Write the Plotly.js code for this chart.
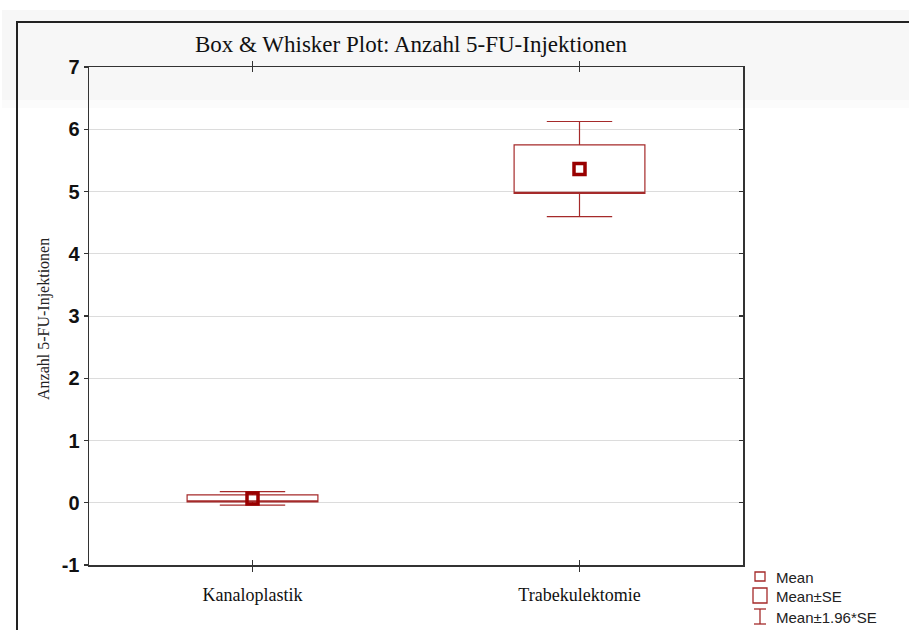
<!DOCTYPE html>
<html>
<head>
<meta charset="utf-8">
<script src="https://cdn.plot.ly/plotly-3.0.1.min.js"></script>
<style>
  html, body { margin: 0; padding: 0; background: #ffffff; }
  #chart { width: 909px; height: 630px; }
</style>
</head>
<body>
<div id="chart"></div>
<script>
// Groups and their summary statistics (mean, standard error)
const categories = ['Kanaloplastik', 'Trabekulektomie'];
const means = [0.07, 5.36];
const stdErrors = [0.055, 0.39];
const zFactor = 1.96;

// Y axis ticks
const yTickVals = [-1, 0, 1, 2, 3, 4, 5, 6, 7];
const yTickText = ['-1', '0', '1', '2', '3', '4', '5', '6', '7'];

// Legend entries
const legendLabels = ['Mean', 'Mean\u00B1SE', 'Mean\u00B11.96*SE'];

const boxColor = '#a52a2a';
const meanColor = '#990000';

// Box = mean ± SE, whiskers = mean ± 1.96*SE
const q1 = means.map((m, i) => m - stdErrors[i]);
const q3 = means.map((m, i) => m + stdErrors[i]);
const lowFence = means.map((m, i) => m - zFactor * stdErrors[i]);
const upFence = means.map((m, i) => m + zFactor * stdErrors[i]);

const boxTrace = {
  type: 'box',
  x: categories,
  q1: q1,
  median: q1,
  q3: q3,
  lowerfence: lowFence,
  upperfence: upFence,
  width: 0.4,
  whiskerwidth: 0.5,
  boxpoints: false,
  fillcolor: 'rgba(0,0,0,0)',
  line: { color: boxColor, width: 1.2 },
  showlegend: false,
  hoverinfo: 'skip'
};

const meanTrace = {
  type: 'scatter',
  mode: 'markers',
  x: categories,
  y: means,
  marker: { symbol: 'square-open', size: 11, color: meanColor, line: { width: 3.5, color: meanColor } },
  showlegend: false,
  hoverinfo: 'skip'
};

// Plot area in pixels
const W = 909, H = 630;
const L = 89, R = 743, T = 67, B = 565;
const px = v => (v - L) / (R - L);
const py = v => (B - v) / (B - T);

const shapes = [
  // soft grey header band
  { type: 'rect', xref: 'paper', yref: 'paper', layer: 'below',
    x0: px(2), x1: px(W + 5), y0: py(100), y1: py(10),
    fillcolor: '#f7f7f7', line: { width: 0 } },
  { type: 'rect', xref: 'paper', yref: 'paper', layer: 'below',
    x0: px(2), x1: px(W + 5), y0: py(108), y1: py(100),
    fillcolor: '#fbfbfb', line: { width: 0 } },
  // outer frame
  { type: 'path', xref: 'paper', yref: 'paper',
    path: 'M ' + px(17) + ' ' + py(H + 10) + ' L ' + px(17) + ' ' + py(22) + ' L ' + px(W + 10) + ' ' + py(22),
    line: { color: '#222222', width: 2 } },
  // legend: mean symbol
  { type: 'rect', xref: 'paper', yref: 'paper',
    x0: px(755), x1: px(765), y0: py(581), y1: py(572),
    line: { color: boxColor, width: 1.3 } },
  // legend: SE box
  { type: 'rect', xref: 'paper', yref: 'paper',
    x0: px(753), x1: px(767), y0: py(603), y1: py(588),
    line: { color: boxColor, width: 1.3 } },
  // legend: whisker
  { type: 'line', xref: 'paper', yref: 'paper',
    x0: px(760), x1: px(760), y0: py(624), y1: py(609),
    line: { color: boxColor, width: 1.3 } },
  { type: 'line', xref: 'paper', yref: 'paper',
    x0: px(754), x1: px(766), y0: py(609), y1: py(609),
    line: { color: boxColor, width: 1.3 } },
  { type: 'line', xref: 'paper', yref: 'paper',
    x0: px(754), x1: px(766), y0: py(624), y1: py(624),
    line: { color: boxColor, width: 1.3 } }
];

const legendY = [577, 596, 617];
const annotations = legendLabels.map((t, i) => ({
  xref: 'paper', yref: 'paper', x: px(774), y: py(legendY[i]),
  xanchor: 'left', yanchor: 'middle', showarrow: false, text: t,
  font: { family: 'Liberation Sans, Arial, sans-serif', size: 15, color: '#222222' }
}));
annotations.push({
  xref: 'paper', yref: 'paper', x: px(44), y: py(319),
  xanchor: 'center', yanchor: 'middle', showarrow: false, textangle: -90,
  text: 'Anzahl 5-FU-Injektionen',
  font: { family: 'Liberation Serif, Times New Roman, serif', size: 16, color: '#222222' }
});

const layout = {
  width: W, height: H,
  margin: { l: L, r: W - R, t: T, b: H - B, pad: 0 },
  paper_bgcolor: '#ffffff',
  plot_bgcolor: 'rgba(0,0,0,0)',
  title: {
    text: 'Box & Whisker Plot: Anzahl 5-FU-Injektionen',
    x: 411 / W, xanchor: 'center', xref: 'container',
    y: 1 - 44 / H, yanchor: 'middle', yref: 'container',
    font: { family: 'Liberation Serif, Times New Roman, serif', size: 23, color: '#111111' }
  },
  showlegend: false,
  xaxis: {
    type: 'category',
    range: [-0.5, 1.5],
    showline: true, linecolor: '#333333', linewidth: 1.5,
    mirror: 'allticks', ticks: 'inside', ticklen: 5, tickcolor: '#333333', tickwidth: 1.2,
    showgrid: false, zeroline: false,
    ticklabelstandoff: 13,
    tickfont: { family: 'Liberation Serif, Times New Roman, serif', size: 18, color: '#111111' }
  },
  yaxis: {
    range: [-1, 7],
    tickmode: 'array', tickvals: yTickVals, ticktext: yTickText,
    showline: true, linecolor: '#333333', linewidth: 1.5,
    ticks: 'outside', ticklen: 4, tickcolor: '#333333', tickwidth: 1.2,
    showgrid: true, gridcolor: '#dcdcdc', gridwidth: 1,
    zeroline: false,
    tickfont: { family: 'Liberation Sans, Arial, sans-serif', size: 20, color: '#111111', weight: 'bold' }
  },
  yaxis2: {
    overlaying: 'y', side: 'right', matches: 'y',
    range: [-1, 7],
    tickmode: 'array', tickvals: yTickVals,
    showticklabels: false,
    showline: true, linecolor: '#333333', linewidth: 1.5,
    ticks: 'inside', ticklen: 4, tickcolor: '#333333', tickwidth: 1.2,
    showgrid: false, zeroline: false
  },
  shapes: shapes,
  annotations: annotations
};

// invisible carrier so the right-hand axis is drawn
const rightAxisTrace = {
  type: 'scatter', mode: 'markers', x: categories, y: means, yaxis: 'y2',
  marker: { opacity: 0 }, showlegend: false, hoverinfo: 'skip'
};

Plotly.newPlot('chart', [boxTrace, meanTrace, rightAxisTrace], layout, { displayModeBar: false, staticPlot: true });
</script>
</body>
</html>
